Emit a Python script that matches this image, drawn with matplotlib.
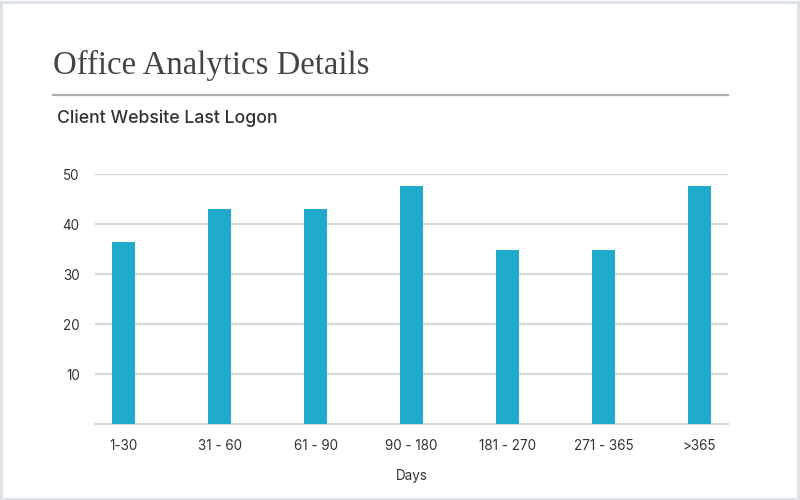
import matplotlib
matplotlib.use("Agg")
import matplotlib.pyplot as plt
from matplotlib.patches import Rectangle
from matplotlib.lines import Line2D

categories = ["1-30", "31 - 60", "61 - 90", "90 - 180", "181 - 270", "271 - 365", ">365"]
values = [36.4, 43.0, 43.0, 47.6, 34.8, 34.8, 47.6]
y_ticks = [10, 20, 30, 40, 50]

title = "Office Analytics Details"
subtitle = "Client Website Last Logon"
x_label = "Days"

W, H = 800, 500
fig = plt.figure(figsize=(W / 100, H / 100), dpi=100)
fig.patch.set_facecolor("white")

# card border
fig.patches.append(Rectangle((1.2 / W, 1.5 / H), 1 - 3.2 / W, 1 - 3.5 / H, transform=fig.transFigure,
                             fill=False, edgecolor="#dde1e8", linewidth=2.2))

# title
fig.text(53 / W, 1 - 65 / H, title, family="Liberation Serif", fontsize=23.6, color="#444444",
         ha="left", va="center")
# rule
fig.add_artist(Line2D([53 / W, 728 / W], [1 - 95 / H, 1 - 95 / H], transform=fig.transFigure,
                      color="#b0b0b0", linewidth=1.6))
# subtitle
fig.text(57 / W, 1 - 118 / H, subtitle, family="Inter", fontsize=12.7, color="#333333",
         ha="left", va="center", fontweight="medium")

left, right, top, bottom = 95, 728, 174, 424
ax = fig.add_axes([left / W, 1 - bottom / H, (right - left) / W, (bottom - top) / H])
x = list(range(len(categories)))
ax.bar(x, values, width=0.24, color="#1fa9cd", zorder=3)
ax.set_xlim(-0.3, 6.3)
ax.set_ylim(0, 50)
ax.set_yticks(y_ticks)
ax.set_yticklabels([str(v) for v in y_ticks])
ax.set_xticks(x)
ax.set_xticklabels(categories)
for s in ax.spines.values():
    s.set_visible(False)
ax.grid(axis="y", color="#d9d9d9", linewidth=1.6, zorder=0)
ax.axhline(0, color="#d9d9d9", linewidth=1.6, zorder=2, clip_on=False)
ax.tick_params(axis="both", length=0, colors="#333333", labelsize=9.7)
ax.tick_params(axis="y", pad=11)
ax.tick_params(axis="x", pad=10.5)
for lab in ax.get_xticklabels() + ax.get_yticklabels():
    lab.set_family("Inter")
ax.set_xlabel(x_label, family="Inter", fontsize=9.7, color="#333333", labelpad=12)

fig.savefig("out.png", dpi=100, facecolor="white")
